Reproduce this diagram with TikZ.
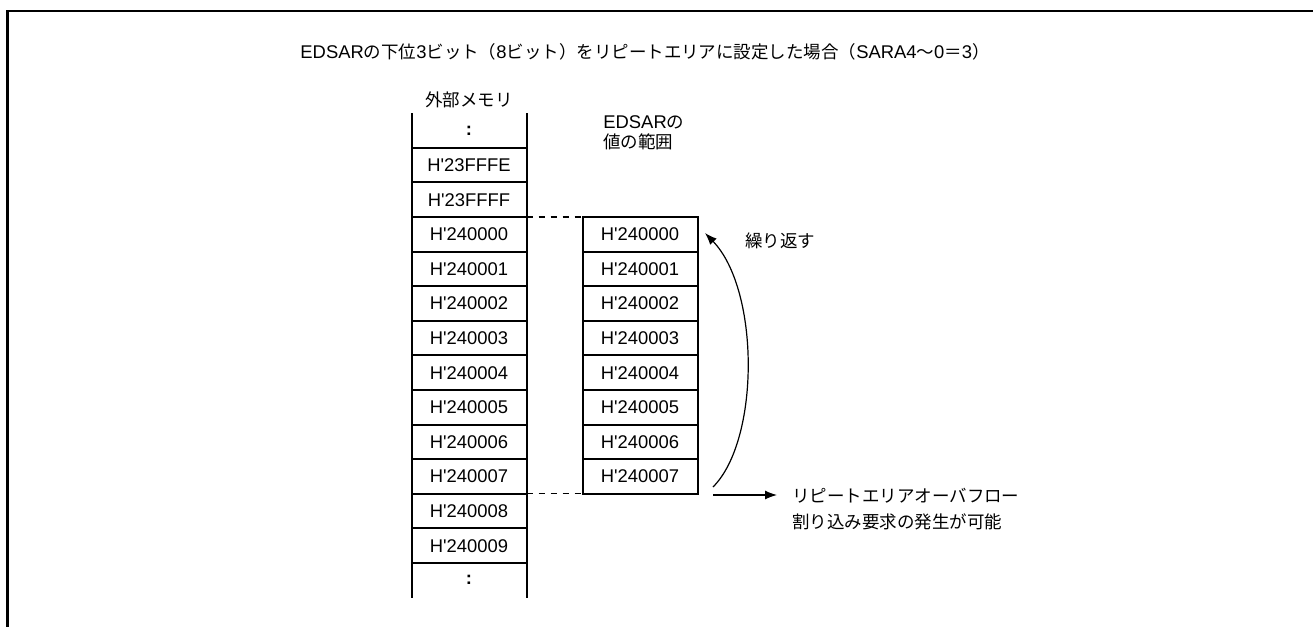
\documentclass[tikz,border=0pt]{standalone}
\usepackage{fontspec}
\newfontfamily\lsans{Liberation Sans}
\newfontfamily\jpfont[Scale=0.95]{Noto Sans CJK JP}
\newcommand{\jtxt}[1]{{\jpfont #1}}
\usetikzlibrary{positioning,arrows.meta}

\begin{document}
\begin{tikzpicture}[
  x=0.5pt, y=-0.5pt,
  node distance=0pt,
  font=\lsans\fontsize{9.2}{10}\selectfont,
  cell/.style={draw, line width=1pt, minimum width=57.5pt, minimum height=17.3pt,
               inner sep=0pt, outer sep=0pt},
  gapcell/.style={cell, draw=none},
  lbl/.style={align=left, inner sep=0pt},
  arr/.style={-{Latex[length=6pt,width=4.5pt]}, line width=0.6pt}
]
\useasboundingbox (0,0) rectangle (1313,627);
% frame
\draw[line width=1.2pt] (7.5,627) -- (7.5,11) -- (1313,11);

\node (title) at (645,52) {EDSAR\jtxt{の下位}3\jtxt{ビット（}8\jtxt{ビット）をリピートエリアに設定した場合（}SARA4\jtxt{～}0\jtxt{＝}3\jtxt{）}};

% external memory
\node[gapcell] (m0) at (469,130.5) {\textbf{:}};
\node[cell, below=of m0] (m1) {H'23FFFE};
\node[cell, below=of m1] (m2) {H'23FFFF};
\node[cell, below=of m2] (m3) {H'240000};
\node[cell, below=of m3] (m4) {H'240001};
\node[cell, below=of m4] (m5) {H'240002};
\node[cell, below=of m5] (m6) {H'240003};
\node[cell, below=of m6] (m7) {H'240004};
\node[cell, below=of m7] (m8) {H'240005};
\node[cell, below=of m8] (m9) {H'240006};
\node[cell, below=of m9] (m10) {H'240007};
\node[cell, below=of m10] (m11) {H'240008};
\node[cell, below=of m11] (m12) {H'240009};
\node[gapcell, below=of m12] (m13) {\textbf{:}};
\draw[line width=1pt] (m0.north west) -- (m13.south west);
\draw[line width=1pt] (m0.north east) -- (m13.south east);
\node[above=of m0, inner sep=2.5pt] (mem) {\jtxt{外部メモリ}};

% EDSAR range
\node[cell, right=28pt of m3] (r0) {H'240000};
\node[cell, below=of r0] (r1) {H'240001};
\node[cell, below=of r1] (r2) {H'240002};
\node[cell, below=of r2] (r3) {H'240003};
\node[cell, below=of r3] (r4) {H'240004};
\node[cell, below=of r4] (r5) {H'240005};
\node[cell, below=of r5] (r6) {H'240006};
\node[cell, below=of r6] (r7) {H'240007};
\node[lbl, anchor=west] (rng) at (603,133) {EDSAR\jtxt{の}\\\jtxt{値の範囲}};

\draw[dashed, line width=0.6pt] (m3.north east) -- (r0.north west);
\draw[dashed, line width=0.6pt] (m10.south east) -- (r7.south west);

% repeat and overflow
\coordinate (loopS) at (713,487);
\coordinate (loopE) at (705,233);
\draw[arr] (loopS) .. controls (760,440) and (760,290) .. (loopE);
\node[lbl, anchor=west] (rep) at (745,241) {\jtxt{繰り返す}};

\coordinate (ovfS) at (713,495);
\coordinate (ovfE) at (777,495);
\draw[arr] (ovfS) -- (ovfE);
\node[lbl, anchor=west, font=\lsans\fontsize{9.2}{13}\selectfont] (ovf) at (792,509)
  {\jtxt{リピートエリアオーバフロー}\\\jtxt{割り込み要求の発生が可能}};
\end{tikzpicture}
\end{document}
